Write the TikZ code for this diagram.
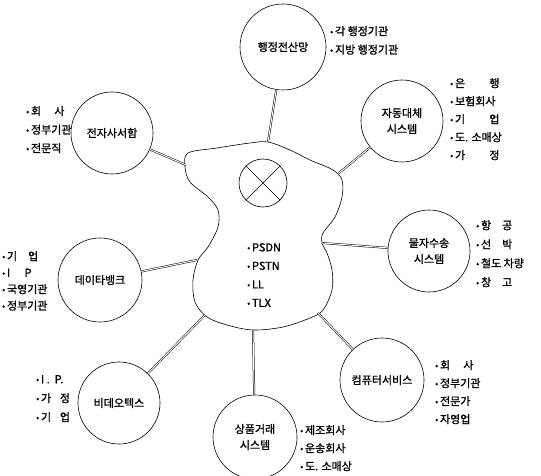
\documentclass[tikz,border=0pt]{standalone}
\usepackage{fontspec}
\usepackage{graphicx}
\setmainfont{Noto Sans CJK KR}[FakeBold=1.2]
\newcommand{\bul}{\raisebox{0.1ex}{\scalebox{0.8}{•}}\,}
\begin{document}
\begin{tikzpicture}[x=1pt, y=-1pt,
	station/.style={circle, draw, line width=0.6pt, minimum size=82pt, inner sep=0pt, align=center, font=\fontsize{11}{16}\selectfont},
	cable/.style={double, double distance=1pt, line width=0.5pt},
	items/.style={anchor=north west, inner sep=0pt, align=left, font=\fontsize{11}{18.5}\selectfont}
]
	\useasboundingbox (0,0) rectangle (541,476);

	%% Network cloud
	\draw [line width=0.6pt] plot [smooth cycle, tension=0.55] coordinates {
		(188,153) (217,148) (250,143) (268,142) (290,150) (310,160)
		(333,170) (342,180) (342,197) (335,217) (323,233) (322,243)
		(327,253) (332,270) (332,290) (323,310) (310,318) (283,327)
		(253,330) (227,325) (207,317) (195,302) (193,280) (198,260)
		(208,247) (218,227) (218,210) (208,197) (190,182) (185,167)
	};
	\coordinate (top) at (268,142);
	\coordinate (upleft) at (186,165);
	\coordinate (upright) at (339,173);
	\coordinate (right) at (322,243);
	\coordinate (left) at (197,260);
	\coordinate (lowleft) at (205,315);
	\coordinate (bottom) at (253,330);
	\coordinate (lowright) at (318,313);

	%% Exchange
	\node [circle, draw, line width=0.6pt, minimum size=48pt, inner sep=0pt] (switch) at (263,183) {};
	\draw [line width=0.6pt] (switch.135) -- (switch.-45);
	\draw [line width=0.6pt] (switch.45) -- (switch.-135);
	\node [items] (nets) at (247,243) {\bul PSDN\\\bul PSTN\\\bul LL\\\bul TLX};

	%% Services
	\node [station, minimum size=86pt] (admin) at (283,47) {행정전산망};
	\node [station] (mail) at (112,133) {전자사서함};
	\node [station] (giro) at (402,121) {자동대체\\시스템};
	\node [station] (freight) at (429,251) {물자수송\\시스템};
	\node [station, minimum size=84pt] (databank) at (100,280) {데이타뱅크};
	\node [station] (videotex) at (119,403) {비데오텍스};
	\node [station, minimum size=84pt] (trade) at (255,437) {상품거래\\시스템};
	\node [station, minimum size=84pt] (compsvc) at (382,380) {컴퓨터서비스};

	%% Cables
	\draw [cable] (top) -- (admin);
	\draw [cable] (upleft) -- (mail);
	\draw [cable] (upright) -- (giro);
	\draw [cable] (right) -- (freight);
	\draw [cable] (left) -- (databank);
	\draw [cable] (lowleft) -- (videotex);
	\draw [cable] (bottom) -- (trade);
	\draw [cable] (lowright) -- (compsvc);

	%% Users
	\node [items] (admin-users) at (330,26) {\bul 각 행정기관\\\bul 지방 행정기관};
	\node [items] (mail-users) at (26,106) {\bul 회\hspace{1.2em}사\\\bul 정부기관\\\bul 전문직};
	\node [items, font=\fontsize{11}{18}\selectfont] (giro-users) at (450,78)
		{\bul 은\hspace{2.2em}행\\\bul 보험회사\\\bul 기\hspace{2.2em}업\\\bul 도. 소매상\\\bul 가\hspace{2.2em}정};
	\node [items, font=\fontsize{11}{19}\selectfont] (freight-users) at (476,220)
		{\bul 항\hspace{1em}공\\\bul 선\hspace{1em}박\\\bul 철도 차량\\\bul 창\hspace{1em}고};
	\node [items, font=\fontsize{11}{16.5}\selectfont] (databank-users) at (2,251)
		{\bul 기\hspace{1em}업\\\bul I\hspace{1.3em}P\\\bul 국영기관\\\bul 정부기관};
	\node [items, font=\fontsize{11}{19}\selectfont] (videotex-users) at (36,375)
		{\bul I\ .\ \ P.\\\bul 가\hspace{0.8em}정\\\bul 기\hspace{0.8em}업};
	\node [items, font=\fontsize{11}{18}\selectfont] (trade-users) at (300,425)
		{\bul 제조회사\\\bul 운송회사\\\bul 도. 소매상};
	\node [items, font=\fontsize{11}{18}\selectfont] (compsvc-users) at (435,360)
		{\bul 회\hspace{1.2em}사\\\bul 정부기관\\\bul 전문가\\\bul 자영업};
\end{tikzpicture}
\end{document}
